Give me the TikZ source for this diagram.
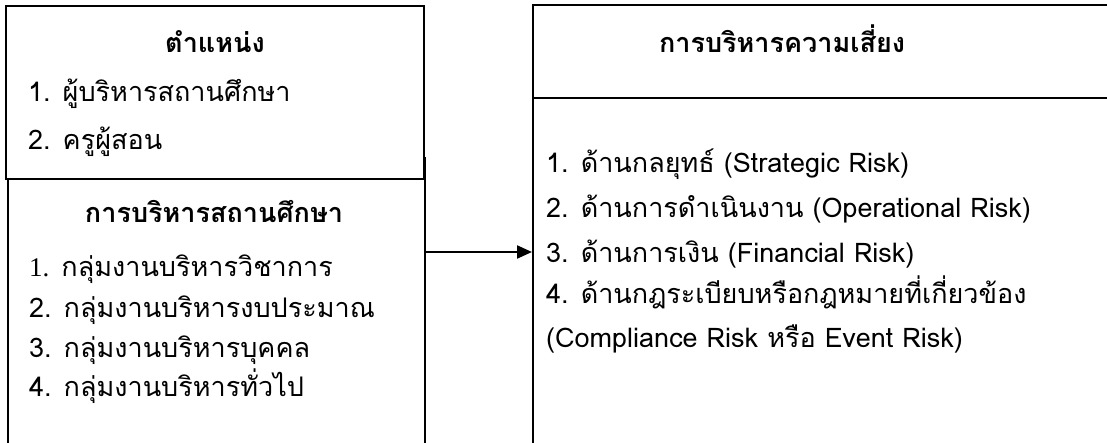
\documentclass[tikz,border=0pt]{standalone}
\usepackage{fontspec}
\setmainfont[Script=Thai]{Loma}
\newfontfamily\numserif{Liberation Serif}
\usetikzlibrary{arrows.meta}
\newcommand\txtsize{\fontsize{27}{32}\selectfont}
\tikzset{
  box/.style={draw,fill=white,inner sep=0pt,anchor=north west},
  head/.style={font=\txtsize\bfseries,anchor=base,inner sep=0pt},
  item/.style={font=\txtsize,anchor=base west,inner sep=0pt},
}
\begin{document}
\begin{tikzpicture}[x=1pt,y=-1pt,line width=2.2pt]
\useasboundingbox (0,0) rectangle (1107,443);
\clip (0,0) rectangle (1107,443);
% boxes, open at the bottom
\node[box,minimum width=417pt,minimum height=330pt] (school) at (7,157) {};
\node[box,minimum width=418pt,minimum height=173pt] (post) at (5,5) {};
\node[box,minimum width=620pt,minimum height=480pt] (risk) at (532,4) {};
\draw (risk.west |- 0,98) -- (risk.east |- 0,98);
\coordinate (h) at (0,252);
\draw[-{Triangle[length=15pt,width=13pt]}] (h -| school.east) -- (h -| risk.west);
% left column
\node[head] (posttitle) at (215,53) {ตำแหน่ง};
\node[item] (post1) at (27,102) {1. ผู้บริหารสถานศึกษา};
\node[item] (post2) at (27,150) {2. ครูผู้สอน};
\node[head] (schooltitle) at (214,223) {การบริหารสถานศึกษา};
\node[item] (school1) at (28,277) {{\numserif 1.} กลุ่มงานบริหารวิชาการ};
\node[item] (school2) at (28,317) {2. กลุ่มงานบริหารงบประมาณ};
\node[item] (school3) at (28,357) {3. กลุ่มงานบริหารบุคคล};
\node[item] (school4) at (28,396) {4. กลุ่มงานบริหารทั่วไป};
% right column
\node[head] (risktitle) at (782,53) {การบริหารความเสี่ยง};
\node[item] (risk1) at (545,173) {1. ด้านกลยุทธ์ (Strategic Risk)};
\node[item] (risk2) at (545,218) {2. ด้านการดำเนินงาน (Operational Risk)};
\node[item] (risk3) at (545,263) {3. ด้านการเงิน (Financial Risk)};
\node[item] (risk4) at (545,303) {4. ด้านกฎระเบียบหรือกฎหมายที่เกี่ยวข้อง};
\node[item] (risk5) at (545,347) {(Compliance Risk หรือ Event Risk)};
\end{tikzpicture}
\end{document}
